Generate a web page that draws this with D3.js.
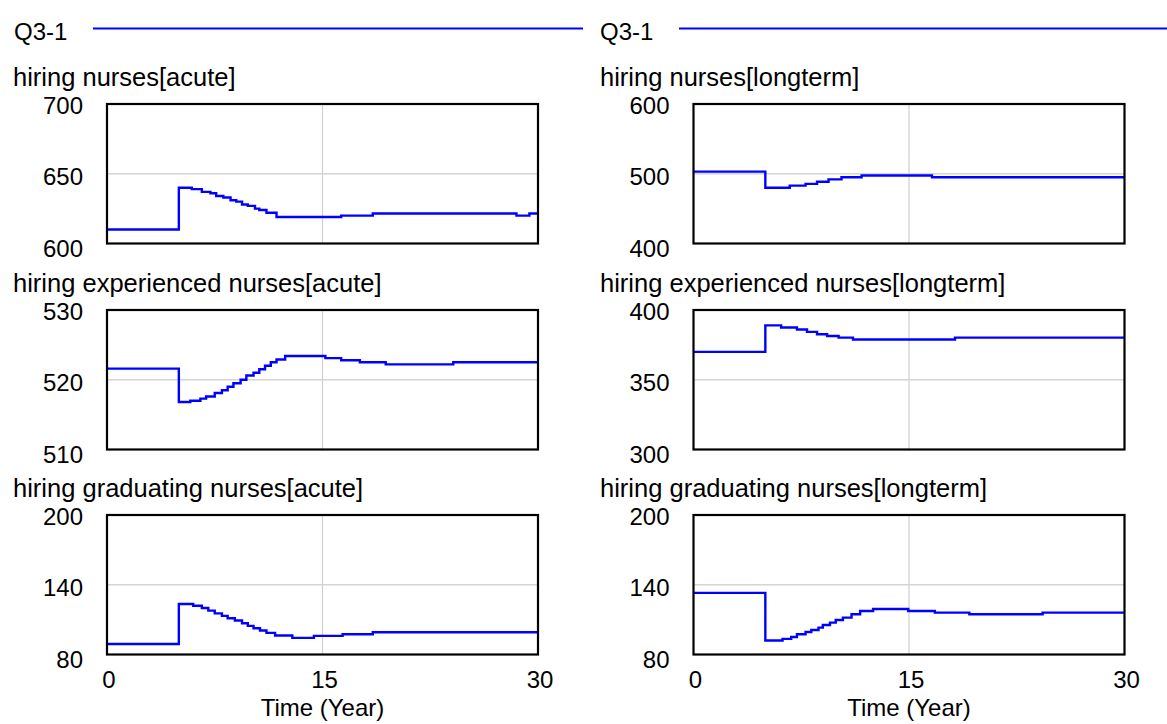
<!DOCTYPE html>
<html>
<head>
<meta charset="utf-8">
<script src="https://cdn.jsdelivr.net/npm/d3@7"></script>
<style>
  body { margin: 0; background: #fff; }
  text { font-family: "Liberation Sans", Arial, sans-serif; fill: #000; }
</style>
</head>
<body>
<div id="chart"></div>
<script>
// run name shown in the legend of each column
var runName = "Q3-1";
var timeTicks = [0, 15, 30];
var timeLabel = "Time (Year)";

// left column (acute)
var titlesAcute = ["hiring nurses[acute]", "hiring experienced nurses[acute]", "hiring graduating nurses[acute]"];
var yTicksAcute = [[600, 650, 700], [510, 520, 530], [80, 140, 200]];

var tNursesAcute = [0, 5, 5.9, 6.6, 7.2, 7.6, 8.1, 8.6, 9.0, 9.4, 9.8, 10.3, 10.6, 11.1, 11.8, 16.3, 18.5, 28.5, 29.4, 30];
var vNursesAcute = [610, 640, 639, 637, 636, 634, 633, 631, 630, 628, 627, 625, 624, 622, 619, 620, 621.5, 620, 621.5, 621.5];

var tExpAcute = [0, 5, 5.8, 6.5, 6.9, 7.5, 8.0, 8.4, 8.8, 9.3, 9.7, 10.2, 10.6, 11.0, 11.4, 11.8, 12.4, 15.2, 16.3, 17.6, 19.4, 24.1, 30];
var vExpAcute = [521.6, 516.8, 517.0, 517.3, 517.6, 518.1, 518.5, 519.0, 519.5, 520.0, 520.6, 521.0, 521.5, 522.0, 522.5, 522.9, 523.4, 523.1, 522.8, 522.5, 522.2, 522.5, 522.5];

var tGradAcute = [0, 5, 6.0, 6.6, 7.05, 7.5, 8.0, 8.4, 8.9, 9.4, 9.8, 10.2, 10.65, 11.1, 11.7, 12.9, 14.4, 16.4, 18.5, 30];
var vGradAcute = [89, 123.4, 122, 120, 117.7, 115.4, 113.2, 111.2, 109.2, 106.9, 104.6, 102.6, 100.6, 98.6, 96.3, 94.3, 96, 97.4, 99.2, 99.2];

// right column (longterm)
var titlesLong = ["hiring nurses[longterm]", "hiring experienced nurses[longterm]", "hiring graduating nurses[longterm]"];
var yTicksLong = [[400, 500, 600], [300, 350, 400], [80, 140, 200]];

var tNursesLong = [0, 5, 6.7, 7.8, 8.6, 9.4, 10.3, 11.7, 16.6, 30];
var vNursesLong = [503, 480, 483, 485.5, 488.5, 492, 495, 497.5, 495, 495];

var tExpLong = [0, 5, 6.1, 7.2, 7.9, 8.6, 9.3, 10.1, 11.1, 18.2, 30];
var vExpLong = [370, 389, 387.5, 386, 384.3, 382.6, 381.4, 380.2, 378.8, 380.2, 380.2];

var tGradLong = [0, 5, 6.2, 6.8, 7.2, 7.8, 8.2, 8.7, 9.0, 9.5, 9.9, 10.4, 11.0, 11.6, 12.5, 14.95, 16.8, 19.2, 24.3, 30];
var vGradLong = [133, 92, 93.4, 95.1, 97.4, 99.4, 101.1, 103.1, 105.4, 107.4, 109.7, 111.7, 114.6, 117.4, 119.1, 117.4, 116, 114.6, 116, 116];

var W = 1167, H = 724;
var svg = d3.select("#chart").append("svg")
    .attr("width", W)
    .attr("height", H);
svg.append("rect").attr("width", W).attr("height", H).attr("fill", "#fff");

var columns = [
  {x0: 107, x1: 538, textX: 13, titles: titlesAcute, ticks: yTicksAcute,
   series: [[tNursesAcute, vNursesAcute], [tExpAcute, vExpAcute], [tGradAcute, vGradAcute]],
   legendX: 14, lineX0: 93, lineX1: 583},
  {x0: 693.5, x1: 1124.5, textX: 600, titles: titlesLong, ticks: yTicksLong,
   series: [[tNursesLong, vNursesLong], [tExpLong, vExpLong], [tGradLong, vGradLong]],
   legendX: 600, lineX0: 679, lineX1: 1167}
];
var panelTops = [104, 310, 515];
var panelH = 139.5;

columns.forEach(function(col) {
    // legend line
    svg.append("text")
        .attr("x", col.legendX).attr("y", 40)
        .attr("font-size", 24)
        .text(runName);
    svg.append("line")
        .attr("x1", col.lineX0).attr("x2", col.lineX1)
        .attr("y1", 28.5).attr("y2", 28.5)
        .attr("stroke", "#0000ff").attr("stroke-width", 2);

    var x = d3.scaleLinear().domain([0, 30]).range([col.x0, col.x1]);

    for (var i = 0; i < 3; i++) {
        var top = panelTops[i];
        var ticks = col.ticks[i];
        var y = d3.scaleLinear()
            .domain([ticks[0], ticks[2]])
            .range([top + panelH, top]);
        var g = svg.append("g");

        g.append("text")
            .attr("x", col.textX).attr("y", top - 18)
            .attr("font-size", 25.5)
            .text(col.titles[i]);

        // grid
        g.append("line")
            .attr("x1", x(15)).attr("x2", x(15))
            .attr("y1", top).attr("y2", top + panelH)
            .attr("stroke", "#cfcfcf").attr("stroke-width", 1.2);
        g.append("line")
            .attr("x1", col.x0).attr("x2", col.x1)
            .attr("y1", y(ticks[1])).attr("y2", y(ticks[1]))
            .attr("stroke", "#d4d4d4").attr("stroke-width", 1.5);

        // y labels
        var offs = [5, 3, 2];
        g.selectAll(".ylab")
            .data(ticks)
            .enter().append("text")
            .attr("x", col.x0 - 24)
            .attr("y", function(d, k) { return y(d) + offs[k]; })
            .attr("dy", "0.35em")
            .attr("text-anchor", "end")
            .attr("font-size", 24)
            .text(function(d) { return d; });

        var s = col.series[i];
        var pts = s[0].map(function(t, k) { return [t, s[1][k]]; });
        var line = d3.line()
            .x(function(d) { return x(d[0]); })
            .y(function(d) { return y(d[1]); })
            .curve(d3.curveStepAfter);
        g.append("path")
            .datum(pts)
            .attr("d", line)
            .attr("fill", "none")
            .attr("stroke", "#0000ff")
            .attr("stroke-width", 2.4);

        g.append("rect")
            .attr("x", col.x0).attr("y", top)
            .attr("width", col.x1 - col.x0).attr("height", panelH)
            .attr("fill", "none")
            .attr("stroke", "#000").attr("stroke-width", 2.2);

        if (i == 2) {
            g.selectAll(".xlab")
                .data(timeTicks)
                .enter().append("text")
                .attr("x", function(d) { return x(d) + 2; })
                .attr("y", 688)
                .attr("text-anchor", "middle")
                .attr("font-size", 24)
                .text(function(d) { return d; });
            g.append("text")
                .attr("x", x(15)).attr("y", 716)
                .attr("text-anchor", "middle")
                .attr("font-size", 24)
                .text(timeLabel);
        }
    }
});
</script>
</body>
</html>
